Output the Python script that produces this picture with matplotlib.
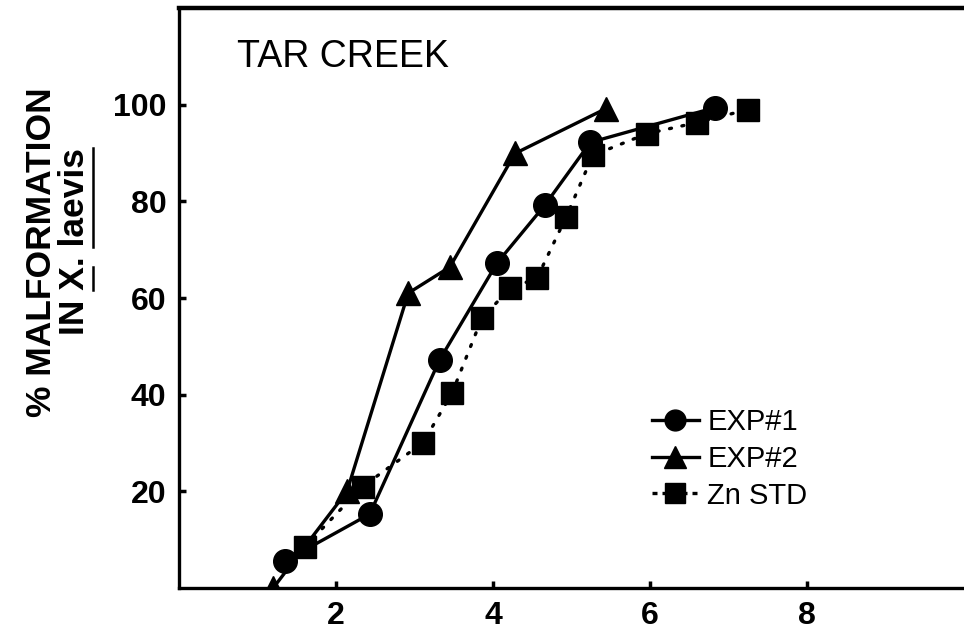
import matplotlib.pyplot as plt
from matplotlib.lines import Line2D

plt.rcParams['font.family'] = ['Liberation Sans', 'DejaVu Sans']

# malformation data
exp1_x = [1.35, 2.43, 3.32, 4.05, 4.66, 5.24, 6.83]
exp1_y = [5.6, 15.3, 47.2, 67.2, 79.2, 92.2, 99.4]

exp2_x = [1.2, 2.14, 2.92, 3.45, 4.28, 5.44]
exp2_y = [0, 20, 61, 66.4, 89.9, 99.2]

zn_x = [1.6, 2.34, 3.11, 3.48, 3.86, 4.22, 4.56, 4.93, 5.27, 5.96, 6.6, 7.25]
zn_y = [8.5, 21, 30.1, 40.4, 55.9, 62, 64.1, 76.7, 89.5, 94, 96.3, 99]

xticks = [2, 4, 6, 8]
yticks = [20, 40, 60, 80, 100]
labels = ['EXP#1', 'EXP#2', 'Zn STD']

fig = plt.figure(figsize=(9.64, 6.42), dpi=100)
ax = fig.add_axes([179 / 964, 1 - 588 / 642, 785 / 964, 580 / 642])

lw = 2.4
dots = (0, (0.6, 3.2))
ax.plot(zn_x, zn_y, linestyle=dots, dash_capstyle='round', color='black', lw=lw,
        marker='s', ms=16, zorder=2)
ax.plot(exp1_x, exp1_y, '-', color='black', lw=lw, marker='o', ms=17, zorder=3)
ax.plot(exp2_x, exp2_y, '-', color='black', lw=lw, marker='^', ms=17, zorder=3)

ax.set_xlim(0, 10)
ax.set_ylim(0, 120)
ax.set_xticks(xticks)
ax.set_yticks(yticks)
ax.tick_params(direction='in', length=5, width=2.5, labelsize=23, pad=9)
for t in ax.get_xticklabels() + ax.get_yticklabels():
    t.set_fontweight('bold')
ax.spines['right'].set_visible(False)
for s in ['left', 'bottom', 'top']:
    ax.spines[s].set_linewidth(2.4)
ax.spines['top'].set_linewidth(3.2)

ax.text(237, 642 - 67, 'TAR CREEK', transform=None, fontsize=27, va='baseline', ha='left')

# legend built from proxy handles
handles = [
    Line2D([], [], color='black', lw=lw, marker='o', ms=15),
    Line2D([], [], color='black', lw=lw, marker='^', ms=16),
    Line2D([], [], color='black', lw=lw, linestyle=(0, (1.5, 1.5)), marker='s', ms=14),
]
leg = ax.legend(handles, labels, loc='upper left', bbox_to_anchor=(652 / 964, 1 - 408 / 642),
                bbox_transform=fig.transFigure, frameon=False, fontsize=21,
                handlelength=1.6, handletextpad=0.3, labelspacing=0.3, borderpad=0,
                borderaxespad=0)

# y axis title on two lines, underlining the species name
fig.text(42 / 964, 1 - 252 / 642, '% MALFORMATION', rotation=90, fontsize=25.5,
         fontweight='bold', ha='center', va='center')
line2 = 'IN X. laevis'
t2 = fig.text(74 / 964, 1 - 242 / 642, line2, rotation=90, fontsize=25.5,
              fontweight='bold', ha='center', va='center')

fig.canvas.draw()
r = fig.canvas.get_renderer()
bb = t2.get_window_extent(r)


def width_of(s):
    tmp = fig.text(0, 0, s, fontsize=25.5, fontweight='bold')
    w = tmp.get_window_extent(r).width
    tmp.remove()
    return w


full = width_of(line2)
x_ul = bb.x1 + 2
for a, b in [('IN ', 'IN X'), ('IN X. ', 'IN X. laevis')]:
    y0 = bb.y0 + width_of(a) * bb.height / full
    y1 = bb.y0 + width_of(b) * bb.height / full
    fig.add_artist(Line2D([x_ul, x_ul], [y0, y1], transform=None, color='black', lw=1.8))

fig.savefig('out.png', dpi=100)
